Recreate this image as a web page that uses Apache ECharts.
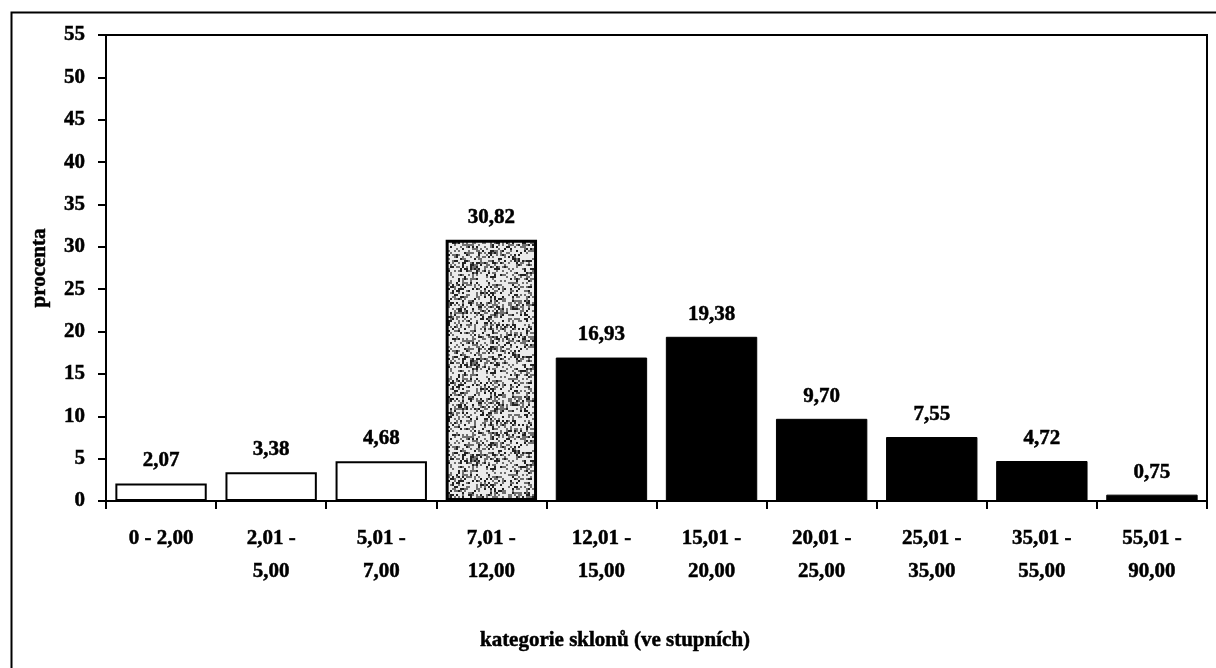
<!DOCTYPE html>
<html>
<head>
<meta charset="utf-8">
<script src="https://cdn.jsdelivr.net/npm/echarts@6/dist/echarts.min.js"></script>
<style>
  html, body { margin: 0; padding: 0; background: #fff; }
  #chart { width: 1216px; height: 668px; }
</style>
</head>
<body>
<div id="chart"></div>
<script>
const categories = ['0 - 2,00', '2,01 -\n5,00', '5,01 -\n7,00', '7,01 -\n12,00', '12,01 -\n15,00',
    '15,01 -\n20,00', '20,01 -\n25,00', '25,01 -\n35,00', '35,01 -\n55,00', '55,01 -\n90,00']
const percents = [2.07, 3.38, 4.68, 30.82, 16.93, 19.38, 9.70, 7.55, 4.72, 0.75]
// 0 = open bar, 1 = stippled bar, 2 = solid bar
const barKind = [0, 0, 0, 1, 2, 2, 2, 2, 2, 2]
const yTicks = { min: 0, max: 55, interval: 5 }

const FONT = '"Liberation Serif", "Times New Roman", serif'
const heavy = { fontSize: 21, fontWeight: 'bold', fontFamily: FONT, color: '#000',
    textBorderColor: '#000', textBorderWidth: 0.5 }

// speckled grey fill for the middle class (fixed hash so it is stable)
function stipple() {
    const n = 48
    const c = document.createElement('canvas')
    c.width = n * 2
    c.height = n * 2
    const ctx = c.getContext('2d')
    ctx.fillStyle = '#ececec'
    ctx.fillRect(0, 0, n * 2, n * 2)
    let s = 4242
    for (let y = 0; y < n; y++) {
        for (let x = 0; x < n; x++) {
            s = (s * 1103515245 + 12345) & 0x7fffffff
            const r = (s >> 8) % 100
            if (r < 40) {
                ctx.fillStyle = r < 15 ? '#222' : '#707070'
                ctx.fillRect(x * 2, y * 2, 2, 2)
            }
        }
    }
    return c
}

const styles = [
    { color: '#fff', borderColor: '#000', borderWidth: 2 },
    { color: { image: stipple(), repeat: 'repeat' }, borderColor: '#000', borderWidth: 3 },
    { color: '#000', borderColor: '#000', borderWidth: 1 }
]

const chart = echarts.init(document.getElementById('chart'))
chart.setOption({
    animation: false,
    backgroundColor: '#fff',
    textStyle: { fontFamily: FONT, fontWeight: 'bold', color: '#000' },
    grid: {
        left: 106, top: 35, right: 9, bottom: 167,
        show: true, borderColor: '#000', borderWidth: 2
    },
    graphic: [
        {
            type: 'rect', left: 9, top: 10, silent: true,
            shape: { width: 1230, height: 700 },
            style: { fill: 'none', stroke: '#000', lineWidth: 2 }
        },
        {
            type: 'text', x: 615, y: 641,
            style: {
                text: 'kategorie sklonů (ve stupních)', font: 'bold 21px ' + FONT,
                fill: '#000', stroke: '#000', lineWidth: 0.5,
                align: 'center', verticalAlign: 'middle'
            }
        }
    ],
    xAxis: {
        type: 'category',
        data: categories,
        axisLine: { lineStyle: { color: '#000', width: 2 } },
        axisTick: { show: true, interval: 0, length: 8, lineStyle: { color: '#000', width: 2 } },
        axisLabel: Object.assign({ interval: 0, margin: 21, lineHeight: 33 }, heavy)
    },
    yAxis: {
        type: 'value',
        min: yTicks.min, max: yTicks.max, interval: yTicks.interval,
        name: 'procenta',
        nameLocation: 'middle',
        nameGap: 56,
        nameTextStyle: heavy,
        axisLine: { show: true, lineStyle: { color: '#000', width: 2 } },
        axisTick: { show: true, length: 8, lineStyle: { color: '#000', width: 2 } },
        axisLabel: Object.assign({ margin: 21 }, heavy),
        splitLine: { show: false }
    },
    series: [{
        type: 'bar',
        barCategoryGap: '17%',
        data: percents.map((v, i) => ({ value: v, itemStyle: styles[barKind[i]] })),
        label: Object.assign({
            show: true, position: 'top', distance: 12,
            formatter: p => p.value.toFixed(2).replace('.', ',')
        }, heavy)
    }]
})
</script>
</body>
</html>
